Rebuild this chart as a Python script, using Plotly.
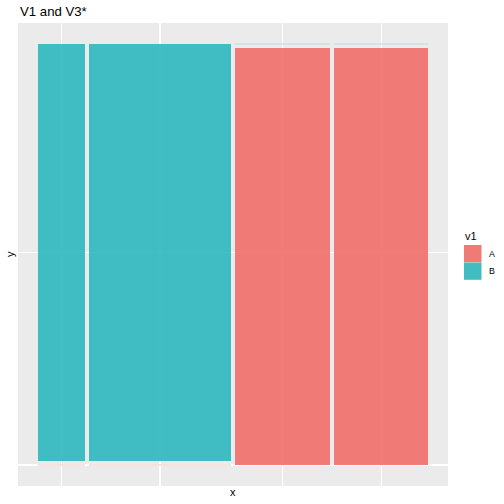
import plotly.graph_objects as go

# ---- data ----
title_text = "V1 and V3*"
columns = ["c1", "c2", "c3", "c4"]          # x categories (labels not shown)
col_counts = [1, 3, 2, 2]                   # column widths (counts)
levels = ["A", "B"]                         # v1 levels
share_A = [0.0, 0.0, 1.0, 1.0]              # share of A within each column
share_B = [1.0, 1.0, 0.0, 0.0]
offset = 0.01

fill = {"A": "rgba(241,110,105,0.9)", "B": "rgba(46,184,190,0.9)"}
key_col = {"A": "#F07B76", "B": "#41BDC2"}
strip_col = {"A": "#F3DAD7", "B": "#C6E3E4"}

# ---- mosaic geometry from data ----
n = len(columns)
total = sum(col_counts)
avail = 1 - offset * (n - 1)
widths = [c / total * avail for c in col_counts]
x0s = []
pos = 0.0
for w in widths:
    x0s.append(pos)
    pos += w + offset
centers = [x + w / 2 for x, w in zip(x0s, widths)]

hscale = 1 - offset
a_lo = [0.0] * n
a_hi = [s * hscale for s in share_A]
b_lo = [h + offset for h in a_hi]
b_hi = [lo + s * hscale for lo, s in zip(b_lo, share_B)]

fig = go.Figure()
for lev, lo, hi in [("A", a_lo, a_hi), ("B", b_lo, b_hi)]:
    xs, ws, bs, hs = [], [], [], []
    for i in range(n):
        if hi[i] - lo[i] > 0:
            xs.append(centers[i]); ws.append(widths[i]); bs.append(lo[i]); hs.append(hi[i] - lo[i])
        else:
            fig.add_trace(go.Scatter(x=[x0s[i], x0s[i] + widths[i]], y=[lo[i], lo[i]],
                                     mode="lines", line=dict(color=strip_col[lev], width=1.6),
                                     showlegend=False, hoverinfo="skip"))
    fig.add_trace(go.Bar(x=xs, y=hs, base=bs, width=ws, name=lev,
                         marker=dict(color=fill[lev], line=dict(width=0)),
                         showlegend=False))

# y breaks: centers of first column segments
ytick = [(a_lo[0] + a_hi[0]) / 2, (b_lo[0] + b_hi[0]) / 2]

W = H = 504
L, R, T, B = 18, 448, 23, 486
def px(x): return (x - L) / (R - L)
def py(y): return (B - y) / (B - T)

font = "Liberation Sans, Arial, Helvetica, sans-serif"
anns = [
    dict(text=title_text, x=px(18), y=py(11.5), xanchor="left", yanchor="middle",
         font=dict(size=13.2, color="black")),
    dict(text="x", x=px(233), y=py(492), xanchor="center", yanchor="middle",
         font=dict(size=11, color="black")),
    dict(text="y", x=px(10), y=py(254), xanchor="center", yanchor="middle", textangle=-90,
         font=dict(size=11, color="black")),
    dict(text="v1", x=px(463), y=py(235.5), xanchor="left", yanchor="middle",
         font=dict(size=11, color="black")),
]
shapes = []
for i, lev in enumerate(levels):
    y0 = 245 + i * 17.5
    shapes.append(dict(type="rect", xref="paper", yref="paper", x0=px(464), x1=px(481.5),
                       y0=py(y0), y1=py(y0 + 17.3), fillcolor=key_col[lev], line=dict(width=0)))
    anns.append(dict(text=lev, x=px(486.5), y=py(y0 + 8.7), xanchor="left", yanchor="middle",
                     font=dict(size=8.8, color="black")))
for a in anns:
    a.update(xref="paper", yref="paper", showarrow=False)

fig.update_layout(
    width=W, height=H,
    margin=dict(l=L, r=W - R, t=T, b=H - B, pad=0),
    paper_bgcolor="white", plot_bgcolor="#EBEBEB",
    font=dict(family=font, color="black"),
    barmode="overlay", bargap=0,
    showlegend=False, hovermode=False,
    annotations=anns, shapes=shapes,
    xaxis=dict(range=[-0.05, 1.05], tickvals=centers, showticklabels=False, ticks="",
               showgrid=True, gridcolor="white", gridwidth=1.1, zeroline=False,
               showline=False, fixedrange=True),
    yaxis=dict(range=[-0.05, 1.05], tickvals=ytick, showticklabels=False, ticks="",
               showgrid=True, gridcolor="white", gridwidth=1.1, zeroline=False,
               showline=False, fixedrange=True),
)
fig.write_html("out.html", config={"displayModeBar": False, "staticPlot": True},
               post_script="document.body.style.margin='0';document.body.style.overflow='hidden';")
